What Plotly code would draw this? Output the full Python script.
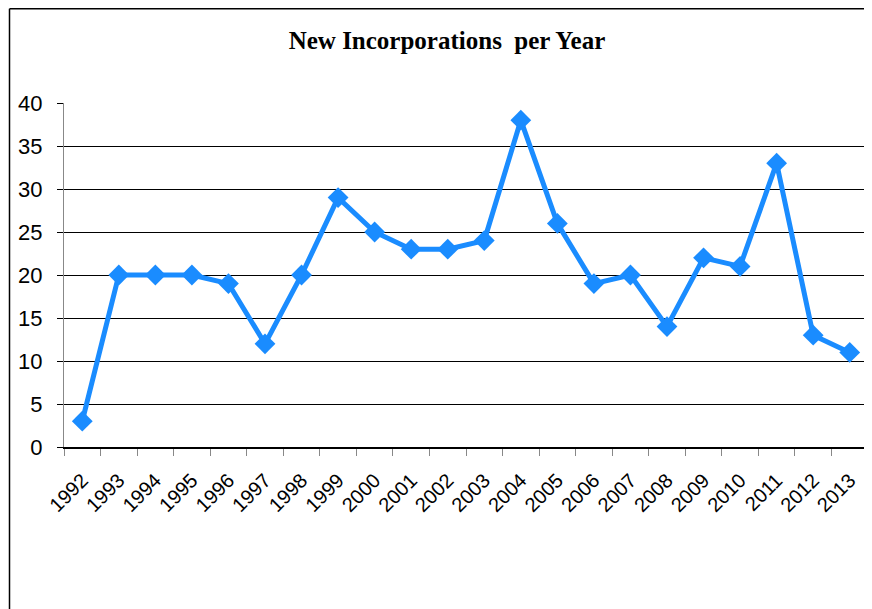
import plotly.graph_objects as go

years = [str(y) for y in range(1992, 2014)]
incorporations = [3, 20, 20, 20, 19, 12, 20, 29, 25, 23, 23, 24, 38, 26, 19, 20, 14, 22, 21, 33, 13, 11]
y_ticks = [0, 5, 10, 15, 20, 25, 30, 35, 40]

W, H = 864, 601
L, R, T, B = 56, 4, 95, 162
pw, ph = W - L - R, H - T - B

fig = go.Figure()
fig.add_trace(go.Scatter(
    x=years, y=incorporations, mode="lines+markers",
    line=dict(color="#1a8cff", width=5),
    marker=dict(symbol="diamond", size=16, color="#1a8cff"),
    showlegend=False,
))

fig.update_layout(
    width=W, height=H,
    paper_bgcolor="white", plot_bgcolor="white",
    margin=dict(l=L, r=R, t=T, b=B),
    title=dict(text="<b>New Incorporations  per Year</b>", x=439/W, xanchor="center",
               y=1 - 32/H, yanchor="middle",
               font=dict(family="Liberation Serif, Times New Roman, serif", size=25, color="black")),
    font=dict(family="Liberation Sans, Arial, sans-serif", color="black"),
)
fig.update_xaxes(
    type="category", tickangle=-45, tickfont=dict(size=20),
    showline=True, linecolor="black", linewidth=1.5,
    ticks="outside", tickson="boundaries", ticklen=7, tickcolor="#888888",
    ticklabelstandoff=12,
    showgrid=False, range=[-0.5, 21.5],
)
fig.update_yaxes(
    range=[0, 40], tickvals=y_ticks, tickfont=dict(size=22),
    showgrid=True, gridcolor="black", gridwidth=1,
    showline=True, linecolor="#888888", linewidth=1,
    ticks="outside", ticklen=6, tickcolor="black",
    ticklabelstandoff=10,
    zeroline=False,
)
# chart frame (left and top edges)
lx = (1.5 - L) / pw
ty = (H - B - 0.75) / ph
fig.add_shape(type="line", xref="paper", yref="paper",
              x0=lx, x1=lx, y0=ty, y1=-(B + 5) / ph,
              line=dict(color="black", width=1.5))
fig.add_shape(type="line", xref="paper", yref="paper",
              x0=lx, x1=1.0, y0=ty, y1=ty,
              line=dict(color="black", width=1.5))

fig.write_html("out.html")
